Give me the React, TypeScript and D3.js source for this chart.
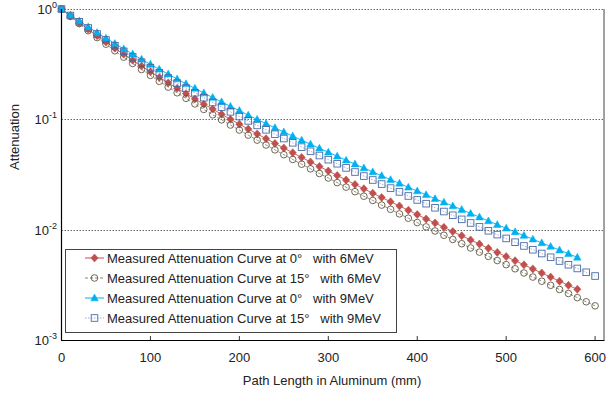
import React from "react";
import * as d3 from "d3";

// Path length in aluminum (mm)
const PATH_LENGTHS = [
  0, 10, 20, 30, 40, 50, 60, 70, 80, 90, 100, 110, 120, 130, 140, 150, 160, 170, 180, 190,
  200, 210, 220, 230, 240, 250, 260, 270, 280, 290, 300, 310, 320, 330, 340, 350, 360, 370,
  380, 390, 400, 410, 420, 430, 440, 450, 460, 470, 480, 490, 500, 510, 520, 530, 540, 550,
  560, 570, 580, 590, 600,
];

// Measured attenuation at 0° with 6MeV (0..580 mm)
const CURVE_0_6MEV = [
  1, 0.865, 0.752, 0.655, 0.573, 0.502, 0.441, 0.389, 0.344, 0.304, 0.27, 0.24, 0.214, 0.191,
  0.171, 0.153, 0.137, 0.124, 0.111, 0.1, 0.0904, 0.0816, 0.0738, 0.0668, 0.0605, 0.0549,
  0.0498, 0.0452, 0.0411, 0.0374, 0.034, 0.031, 0.0282, 0.0257, 0.0235, 0.0214, 0.0196,
  0.0179, 0.0164, 0.015, 0.0137, 0.0125, 0.0115, 0.0105, 0.00961, 0.00881, 0.00807, 0.0074,
  0.00678, 0.00622, 0.0057, 0.00523, 0.0048, 0.00441, 0.00405, 0.00372, 0.00341, 0.00313,
  0.00288,
];

// Measured attenuation at 15° with 6MeV (0..600 mm)
const CURVE_15_6MEV = [
  1, 0.857, 0.737, 0.636, 0.551, 0.48, 0.418, 0.366, 0.321, 0.283, 0.25, 0.221, 0.196, 0.174,
  0.155, 0.138, 0.123, 0.11, 0.0989, 0.0888, 0.0799, 0.0719, 0.0648, 0.0585, 0.0529, 0.0478,
  0.0433, 0.0392, 0.0356, 0.0323, 0.0294, 0.0267, 0.0243, 0.0221, 0.0201, 0.0184, 0.0167,
  0.0153, 0.0139, 0.0127, 0.0116, 0.0106, 0.00973, 0.0089, 0.00815, 0.00746, 0.00683,
  0.00626, 0.00573, 0.00525, 0.00482, 0.00442, 0.00405, 0.00372, 0.00341, 0.00313, 0.00287,
  0.00264, 0.00242, 0.00222, 0.00204,
];

// Measured attenuation at 0° with 9MeV (0..580 mm)
const CURVE_0_9MEV = [
  1, 0.881, 0.778, 0.688, 0.611, 0.544, 0.486, 0.435, 0.39, 0.35, 0.315, 0.284, 0.257, 0.232,
  0.21, 0.191, 0.173, 0.158, 0.144, 0.131, 0.12, 0.109, 0.0999, 0.0914, 0.0838, 0.0768,
  0.0705, 0.0647, 0.0595, 0.0547, 0.0503, 0.0463, 0.0426, 0.0393, 0.0362, 0.0334, 0.0308,
  0.0284, 0.0263, 0.0242, 0.0224, 0.0207, 0.0191, 0.0177, 0.0164, 0.0152, 0.014, 0.013,
  0.012, 0.0111, 0.0103, 0.00955, 0.00885, 0.0082, 0.00759, 0.00704, 0.00653, 0.00605,
  0.00561,
];

// Measured attenuation at 15° with 9MeV (0..600 mm)
const CURVE_15_9MEV = [
  1, 0.873, 0.765, 0.673, 0.593, 0.524, 0.465, 0.413, 0.368, 0.329, 0.294, 0.264, 0.237,
  0.213, 0.192, 0.174, 0.157, 0.142, 0.129, 0.117, 0.106, 0.0968, 0.0881, 0.0804, 0.0733,
  0.067, 0.0613, 0.056, 0.0513, 0.047, 0.0431, 0.0396, 0.0363, 0.0333, 0.0306, 0.0282,
  0.0259, 0.0238, 0.022, 0.0202, 0.0186, 0.0172, 0.0158, 0.0146, 0.0135, 0.0124, 0.0115,
  0.0106, 0.00977, 0.00902, 0.00833, 0.0077, 0.00712, 0.00658, 0.00608, 0.00562, 0.0052,
  0.00481, 0.00445, 0.00411, 0.0038,
];

const X_TICKS = [0, 100, 200, 300, 400, 500, 600];
const Y_TICKS = [1, 0.1, 0.01, 0.001];
const Y_TICK_EXPONENTS = ["0", "-1", "-2", "-3"];
const SERIES_LABELS = [
  "Measured Attenuation Curve at 0°   with 6MeV",
  "Measured Attenuation Curve at 15°   with 6MeV",
  "Measured Attenuation Curve at 0°   with 9MeV",
  "Measured Attenuation Curve at 15°   with 9MeV",
];

const W = 608;
const H = 396;
const L = 61.5;
const R = 604;
const T = 9;
const B = 340;
const FONT = "'Liberation Sans', Arial, Helvetica, sans-serif";

type Style = {
  kind: "diamond" | "circle" | "triangle" | "square";
  line: string;
  dash?: string;
  mfill: string;
  mstroke: string;
};

const STYLES: Style[] = [
  { kind: "diamond", line: "#C0504D", mfill: "#C0504D", mstroke: "#C0504D" },
  { kind: "circle", line: "#8C8470", dash: "3,2", mfill: "none", mstroke: "#5E5844" },
  { kind: "triangle", line: "#00B0F0", mfill: "#00B0F0", mstroke: "#00B0F0" },
  { kind: "square", line: "#8EA9DB", dash: "1.5,1.5", mfill: "none", mstroke: "#4A6AA5" },
];

function Marker({ kind, x, y, s }: { kind: Style["kind"]; x: number; y: number; s: Style }) {
  if (kind === "diamond") {
    const p = `M${x},${y - 4}L${x + 3.6},${y}L${x},${y + 4}L${x - 3.6},${y}Z`;
    return <path d={p} fill={s.mfill} stroke={s.mstroke} strokeWidth={0.6} />;
  }
  if (kind === "circle") {
    return <circle cx={x} cy={y} r={3.3} fill="none" stroke={s.mstroke} strokeWidth={0.9} />;
  }
  if (kind === "triangle") {
    const p = `M${x},${y - 4}L${x + 3.8},${y + 2.8}L${x - 3.8},${y + 2.8}Z`;
    return <path d={p} fill={s.mfill} stroke={s.mstroke} strokeWidth={0.5} />;
  }
  return (
    <rect x={x - 3.3} y={y - 3.3} width={6.6} height={6.6} fill="none" stroke={s.mstroke} strokeWidth={0.9} />
  );
}

export default function App() {
  const x = d3.scaleLinear().domain([0, 610]).range([L, R]);
  const y = d3.scaleLog().domain([0.001, 1]).range([B, T]);
  const seriesData = [CURVE_0_6MEV, CURVE_15_6MEV, CURVE_0_9MEV, CURVE_15_9MEV];
  const line = d3
    .line<number>()
    .x((_, i) => x(PATH_LENGTHS[i]))
    .y((d) => y(d));

  const legendX = 65.5;
  const legendY = 249.5;
  const legendW = 331;
  const legendH = 83;
  const rowY = [258, 278, 298, 318];

  return (
    <svg
      width={W}
      height={H}
      style={{ position: "absolute", left: 0, top: 0, background: "#fff" }}
      fontFamily={FONT}
    >
      <rect x={0} y={0} width={W} height={H} fill="#fff" />
      {/* gridlines */}
      {Y_TICKS.slice(0, 3).map((t) => (
        <line
          key={t}
          x1={L}
          x2={R}
          y1={Math.round(y(t)) + 0.5}
          y2={Math.round(y(t)) + 0.5}
          stroke="#444"
          strokeWidth={0.8}
          strokeDasharray="1.5,1.5"
        />
      ))}
      {/* right border */}
      <line x1={R} x2={R} y1={T} y2={B} stroke="#444" strokeWidth={1} />
      {/* series */}
      {seriesData.map((data, si) => (
        <path
          key={"l" + si}
          d={line(data) || ""}
          fill="none"
          stroke={STYLES[si].line}
          strokeWidth={0.9}
          strokeDasharray={STYLES[si].dash}
        />
      ))}
      {seriesData.map((data, si) => (
        <g key={"m" + si}>
          {data.map((v, i) => (
            <Marker key={i} kind={STYLES[si].kind} x={x(PATH_LENGTHS[i])} y={y(v)} s={STYLES[si]} />
          ))}
        </g>
      ))}
      {/* axes */}
      <line x1={L} x2={L} y1={T} y2={B} stroke="#000" strokeWidth={1.2} />
      <line x1={L - 0.5} x2={R + 0.5} y1={B + 0.5} y2={B + 0.5} stroke="#000" strokeWidth={1.2} />
      {X_TICKS.map((t) => (
        <g key={t}>
          <line x1={x(t)} x2={x(t)} y1={B} y2={B - 4} stroke="#000" strokeWidth={0.8} />
          <text x={x(t)} y={B + 22} fontSize={13} textAnchor="middle" fill="#222">
            {t}
          </text>
        </g>
      ))}
      {Y_TICKS.map((t, i) => (
        <text key={t} x={57} y={y(t) + 5} fontSize={13} textAnchor="end" fill="#222">
          <tspan>10</tspan>
          <tspan fontSize={9} dy={-6}>
            {Y_TICK_EXPONENTS[i]}
          </tspan>
        </text>
      ))}
      <text
        transform={`translate(19,${137}) rotate(-90)`}
        fontSize={13}
        textAnchor="middle"
        fill="#222"
      >
        Attenuation
      </text>
      <text x={332} y={385} fontSize={13} textAnchor="middle" fill="#222">
        Path Length in Aluminum (mm)
      </text>
      {/* legend */}
      <rect x={legendX} y={legendY} width={legendW} height={legendH} fill="#fff" stroke="#444" strokeWidth={1} />
      {SERIES_LABELS.map((lab, i) => (
        <g key={lab}>
          <line
            x1={85}
            x2={104}
            y1={rowY[i]}
            y2={rowY[i]}
            stroke={STYLES[i].line}
            strokeWidth={1}
            strokeDasharray={STYLES[i].dash}
          />
          <Marker kind={STYLES[i].kind} x={94.5} y={rowY[i]} s={STYLES[i]} />
          <text x={107} y={rowY[i] + 4.5} fontSize={13} fill="#222" style={{ whiteSpace: "pre" }}>
            {lab}
          </text>
        </g>
      ))}
    </svg>
  );
}
